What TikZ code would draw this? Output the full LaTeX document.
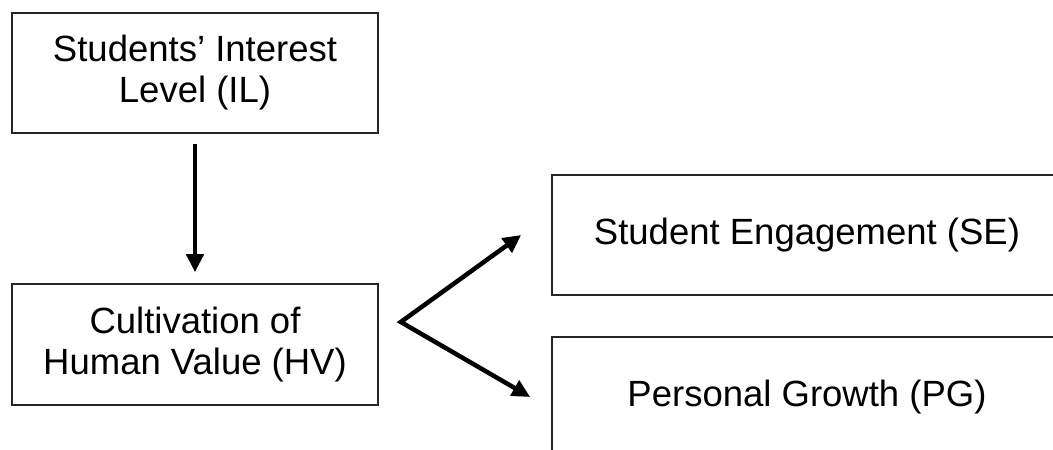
\documentclass[tikz,border=0pt]{standalone}
\usepackage{fontspec}
\setmainfont{Liberation Sans}
\usetikzlibrary{arrows.meta}
\tikzset{
  box/.style={draw=black!85, line width=1.6pt, align=center, inner sep=0pt,
    font=\fontsize{36.5}{41}\selectfont, text=black},
  arr/.style={line width=4.5pt, -{Triangle[length=18pt,width=17pt]}},
  fork/.style={line width=4.5pt, line join=miter,
    {Triangle[length=18pt,width=17pt]}-{Triangle[length=18pt,width=17pt]}}
}
\begin{document}
\begin{tikzpicture}[x=1pt,y=-1pt]
\useasboundingbox (0,0) rectangle (1053,450);
\clip (0,0) rectangle (1053,450);
\node[box, minimum width=366pt, minimum height=120pt] (IL) at (195,73) {Students’ Interest\\Level (IL)};
\node[box, minimum width=366pt, minimum height=121pt] (HV) at (195,344.5) {Cultivation of\\Human Value (HV)};
\node[box, minimum width=510pt, minimum height=120pt] (SE) at (807,235) {Student Engagement (SE)};
\node[box, minimum width=510pt, minimum height=120pt] (PG) at (807,397) {Personal Growth (PG)};
\draw[arr] ([yshift=-10pt]IL.south) -- ([yshift=11pt]HV.north);
\coordinate (v) at ([xshift=22pt,yshift=22.5pt]HV.east);
\coordinate (seTip) at ([xshift=-30pt]SE.west);
\coordinate (pgTip) at ([xshift=-21pt]PG.west);
\draw[fork] (seTip) -- (v) -- (pgTip);
\end{tikzpicture}
\end{document}
